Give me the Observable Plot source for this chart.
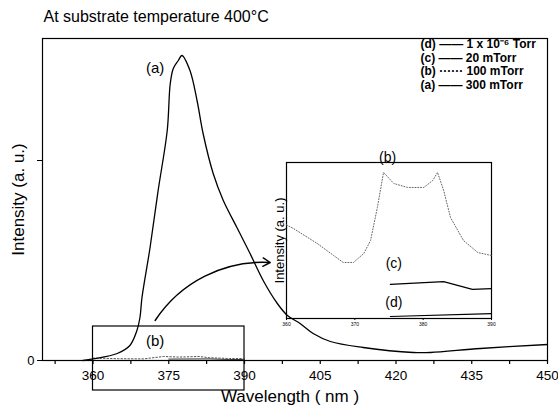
<!DOCTYPE html>
<html><head><meta charset="utf-8">
<script src="https://cdn.jsdelivr.net/npm/d3@7"></script>
<script src="https://cdn.jsdelivr.net/npm/@observablehq/plot@0.6"></script>
<style>
body{margin:0;background:#fff;}
#wrap{position:relative;width:558px;height:410px;}
#wrap svg{position:absolute;left:0;top:0;overflow:visible;}
</style></head><body><div id="wrap"></div>
<script>
// ---- main spectrum (a) 300 mTorr ----
const wavelengthA = [358, 360, 364.8, 367.3, 368.7, 369.3, 369.7, 371.3, 372.9, 374.7, 375.3, 375.9, 376.9, 377.6, 379.2, 380.6, 381.8, 383.8, 385.8, 388.5, 391.1, 393.7, 396.5, 398.5, 401.0, 403.6, 407.0, 413.5, 423.4, 426.8, 436.7, 450];
const intensityA  = [0, 0.008, 0.035, 0.075, 0.15, 0.215, 0.315, 0.565, 0.85, 1.15, 1.385, 1.46, 1.50, 1.525, 1.45, 1.30, 1.135, 0.935, 0.80, 0.665, 0.535, 0.40, 0.285, 0.225, 0.185, 0.135, 0.095, 0.065, 0.04, 0.04, 0.06, 0.08];
// faint near-baseline traces in main plot
const mainWavelengthB = [360, 365, 370, 374, 377, 381, 383, 387, 390];
const mainIntensityB  = [0.012, 0.009, 0.008, 0.02, 0.017, 0.02, 0.014, 0.01, 0.01];
const mainWavelengthC = [375, 383, 387, 390];
const mainIntensityC  = [0.007, 0.008, 0.005, 0.005];
// ---- inset spectra (360-390 nm) ----
const insetWavelengthB = [360, 361.0, 364.5, 366.9, 368.3, 369.8, 371.3, 372.3, 373.3, 374.2, 375.7, 377.7, 380.1, 381.4, 382.1, 383.0, 384.0, 385.9, 388.0, 390];
const insetIntensityB  = [0.66, 0.635, 0.529, 0.444, 0.395, 0.395, 0.458, 0.55, 0.783, 1.03, 0.952, 0.924, 0.924, 0.973, 1.03, 0.903, 0.712, 0.550, 0.465, 0.444];
const insetWavelengthC = [375.2, 383.0, 387.2, 390];
const insetIntensityC  = [0.24, 0.26, 0.205, 0.21];
const insetWavelengthD = [375.2, 390];
const insetIntensityD  = [0.014, 0.035];
// ---- ticks / labels ----
const xTicks = [352.5, 360, 367.5, 375, 382.5, 390, 397.5, 405, 412.5, 420, 427.5, 435, 442.5, 450];
const xTickLabels = ["", "360", "", "375", "", "390", "", "405", "", "420", "", "435", "", "450"];
const yTicks = [0, 1];
const yTickLabels = ["0", ""];
const insetTicks = [360, 370, 380, 390];
const titleText = "At substrate temperature 400°C";
const xLabel = "Wavelength ( nm )";
const yLabel = "Intensity (a. u.)";
const legendRows = ["(d) —— 1 x 10⁻⁶ Torr", "(c) —— 20 mTorr", "(b) ······ 100 mTorr", "(a) —— 300 mTorr"];
// annotations
const curveLabels = [{x: 372.3, y: 1.46, t: "(a)"}, {x: 372.3, y: 0.095, t: "(b)"}];
const zoomBox = [{x1: 360, x2: 390, y1: -0.15, y2: 0.17}];
const arrowData = [{x1: 372.3, y1: 0.2, x2: 395.1, y2: 0.49}];
const insetLabels = [{x: 374.8, y: 1.135, t: "(b)"}, {x: 375.7, y: 0.39, t: "(c)"}, {x: 375.7, y: 0.11, t: "(d)"}];

const FONT = "'Liberation Sans', Arial, Helvetica, sans-serif";
const A = wavelengthA.map((x, i) => ({x, y: intensityA[i]}));
const MB = mainWavelengthB.map((x, i) => ({x, y: mainIntensityB[i]}));
const MC = mainWavelengthC.map((x, i) => ({x, y: mainIntensityC[i]}));
const IB = insetWavelengthB.map((x, i) => ({x, y: insetIntensityB[i]}));
const IC = insetWavelengthC.map((x, i) => ({x, y: insetIntensityC[i]}));
const ID = insetWavelengthD.map((x, i) => ({x, y: insetIntensityD[i]}));

const main = Plot.plot({
  width: 558, height: 410,
  marginLeft: 42, marginRight: 11, marginTop: 38, marginBottom: 50,
  style: {fontFamily: FONT, color: "#000", background: "#fff", overflow: "visible"},
  x: {domain: [350, 450]},
  y: {domain: [0, 1.61]},
  marks: [
    Plot.frame({stroke: "#000", strokeWidth: 1.2}),
    Plot.axisX({ticks: xTicks, tickFormat: d => xTickLabels[xTicks.indexOf(d)], tickSize: 4, tickPadding: 6, fontSize: 13.5, label: null, strokeWidth: 1.2}),
    Plot.axisY({ticks: yTicks, tickFormat: d => yTickLabels[yTicks.indexOf(d)], tickSize: 5, tickPadding: 3, fontSize: 13, label: null}),
    Plot.rect(zoomBox, {x1: "x1", x2: "x2", y1: "y1", y2: "y2", stroke: "#000", fill: "none", strokeWidth: 1.2}),
    Plot.line(MB, {x: "x", y: "y", stroke: "#555", strokeDasharray: "1.5,2", strokeWidth: 1}),
    Plot.line(MC, {x: "x", y: "y", stroke: "#333", strokeWidth: 1}),
    Plot.line(A, {x: "x", y: "y", stroke: "#000", strokeWidth: 1.3, curve: "catmull-rom"}),
    Plot.text(curveLabels, {x: "x", y: "y", text: "t", fontSize: 15}),
    Plot.arrow(arrowData, {x1: "x1", y1: "y1", x2: "x2", y2: "y2", bend: 30, stroke: "#000", strokeWidth: 1.4, headLength: 9}),
    Plot.text([titleText], {frameAnchor: "top-left", dx: 1, dy: -22, textAnchor: "start", lineAnchor: "middle", fontSize: 16}),
    Plot.text([xLabel], {frameAnchor: "bottom", dx: -5, dy: 36, lineAnchor: "middle", textAnchor: "middle", fontSize: 17}),
    Plot.text([yLabel], {frameAnchor: "left", dx: -24, rotate: -90, textAnchor: "middle", lineAnchor: "middle", fontSize: 17}),
    ...legendRows.map((r, i) => Plot.text([r], {frameAnchor: "top-left", dx: 378, dy: 6 + i * 13.5, textAnchor: "start", lineAnchor: "middle", fontSize: 12, fontWeight: "bold"}))
  ]
});

const inset = Plot.plot({
  width: 558, height: 410,
  marginLeft: 286, marginRight: 67, marginTop: 162, marginBottom: 92,
  style: {fontFamily: FONT, color: "#000", background: "transparent", overflow: "visible"},
  x: {domain: [360, 390]},
  y: {domain: [0, 1.1], axis: null},
  marks: [
    Plot.frame({stroke: "#000", strokeWidth: 1.2}),
    Plot.axisX({ticks: insetTicks, tickSize: 2, tickPadding: 2, fontSize: 5, label: null}),
    Plot.line(IB, {x: "x", y: "y", stroke: "#666", strokeDasharray: "1,1.8", strokeWidth: 1}),
    Plot.line(IC, {x: "x", y: "y", stroke: "#000", strokeWidth: 1.2}),
    Plot.line(ID, {x: "x", y: "y", stroke: "#000", strokeWidth: 1.2}),
    Plot.text(insetLabels, {x: "x", y: "y", text: "t", fontSize: 14}),
    Plot.text([yLabel], {frameAnchor: "left", dx: -7, rotate: -90, textAnchor: "middle", lineAnchor: "middle", fontSize: 13})
  ]
});

const wrap = document.getElementById("wrap");
wrap.appendChild(main);
wrap.appendChild(inset);
</script>
</body></html>
